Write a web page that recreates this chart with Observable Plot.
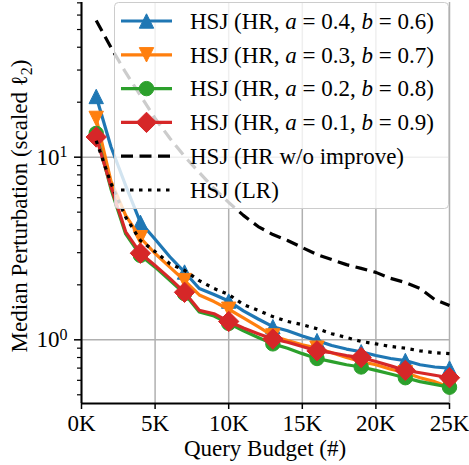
<!DOCTYPE html>
<html><head><meta charset="utf-8">
<script src="https://cdn.jsdelivr.net/npm/d3@7"></script>
<script src="https://cdn.jsdelivr.net/npm/@observablehq/plot@0.6"></script>
<style>body{margin:0;background:#fff;} svg{display:block;}</style>
</head><body><div id="chart"></div>
<script>
// ---- data ----
const queries = [1000,2000,3000,4000,5000,6000,7000,8000,9000,10000,11000,12000,13000,14000,15000,16000,17000,18000,19000,20000,21000,22000,23000,24000,25000];
const hrA04 = [21.5,11.4,7.0,4.4,3.55,2.85,2.35,1.91,1.77,1.63,1.44,1.30,1.18,1.12,1.05,0.99,0.93,0.89,0.86,0.82,0.79,0.77,0.73,0.71,0.70];
const hrA03 = [16.3,7.4,4.8,3.62,2.97,2.5,2.11,1.76,1.62,1.47,1.32,1.18,1.05,0.99,0.94,0.90,0.85,0.80,0.76,0.73,0.69,0.66,0.62,0.59,0.55];
const hrA02 = [13.5,6.7,3.8,2.9,2.5,2.12,1.79,1.42,1.35,1.23,1.12,1.03,0.95,0.90,0.84,0.79,0.76,0.73,0.71,0.68,0.65,0.62,0.59,0.57,0.55];
const hrA01 = [12.9,6.9,3.9,2.98,2.55,2.17,1.82,1.45,1.39,1.26,1.16,1.08,1.01,0.97,0.92,0.87,0.85,0.82,0.80,0.76,0.72,0.68,0.66,0.64,0.62];
const hrNoImprove = [56,39.9,29.1,21.8,16.3,12.7,10.1,8.25,6.74,5.65,4.8,4.17,3.77,3.5,3.2,2.93,2.75,2.58,2.46,2.34,2.17,2.06,1.91,1.66,1.54];
const lr = [12.3,7.2,4.7,3.5,3.04,2.61,2.4,2.11,1.91,1.77,1.56,1.45,1.34,1.26,1.21,1.15,1.08,1.03,0.98,0.95,0.92,0.90,0.87,0.85,0.84];
const xTicks = [0,5000,10000,15000,20000,25000];
const yMajor = [1,10];
const yMinor = [0.5,0.6,0.7,0.8,0.9,2,3,4,5,6,7,8,9,20,30,40,50,60,70];
const labels = [
  ["HSJ (HR, ", "a", " = 0.4, ", "b", " = 0.6)"],
  ["HSJ (HR, ", "a", " = 0.3, ", "b", " = 0.7)"],
  ["HSJ (HR, ", "a", " = 0.2, ", "b", " = 0.8)"],
  ["HSJ (HR, ", "a", " = 0.1, ", "b", " = 0.9)"],
  ["HSJ (HR w/o improve)"],
  ["HSJ (LR)"]
];

// ---- symbols (matplotlib-like) ----
const triUp = {draw(c,s){const r=Math.sqrt(s/Math.PI);c.moveTo(0,-r);c.lineTo(r,r);c.lineTo(-r,r);c.closePath();}};
const triDown = {draw(c,s){const r=Math.sqrt(s/Math.PI);c.moveTo(0,r);c.lineTo(r,-r);c.lineTo(-r,-r);c.closePath();}};
const diamond = {draw(c,s){const r=Math.sqrt(s/Math.PI)*Math.SQRT2;c.moveTo(0,-r);c.lineTo(r,0);c.lineTo(0,r);c.lineTo(-r,0);c.closePath();}};

const series = [
  {vals: hrA04, color:"#1f77b4", sym: triUp, dash:null},
  {vals: hrA03, color:"#ff7f0e", sym: triDown, dash:null},
  {vals: hrA02, color:"#2ca02c", sym: "circle", dash:null},
  {vals: hrA01, color:"#d62728", sym: diamond, dash:null},
  {vals: hrNoImprove, color:"black", sym:null, dash:"12,6.5"},
  {vals: lr, color:"black", sym:null, dash:"3.5,5.5"}
];
const FONT = "'Liberation Serif','Times New Roman',Times,serif";
const MR = 7.2;
const yDomain = [0.448, 70.3];

const marks = [
  Plot.gridX(xTicks, {stroke:"#b0b0b0", strokeOpacity:1, strokeWidth:1.5}),
  Plot.gridY(yMajor, {stroke:"#b0b0b0", strokeOpacity:1, strokeWidth:1.5}),
];
series.forEach(s => {
  const data = queries.map((q,i) => ({q, v: s.vals[i], i}));
  marks.push(Plot.line(data, {x:"q", y:"v", stroke:s.color, strokeWidth:3.2, strokeDasharray: s.dash ?? undefined, strokeLinecap:"butt", strokeLinejoin:"round"}));
  if (s.sym) marks.push(Plot.dot(data.filter(d => d.i % 3 === 0), {x:"q", y:"v", symbol:s.sym, r:MR, fill:s.color, stroke:s.color, strokeWidth:1}));
});
marks.push(
  Plot.ruleX([0], {stroke:"black", strokeWidth:2}),
  Plot.ruleY([yDomain[0]], {stroke:"black", strokeWidth:2}),
  Plot.axisX(xTicks, {tickFormat: d => (d/1000) + "K", tickSize:6, tickPadding:5, strokeWidth:1.5, fontSize:23, label:null}),
  Plot.axisY(yMajor, {tickFormat: d => "10^" + Math.round(Math.log10(d)), tickSize:7, tickPadding:7, strokeWidth:1.5, fontSize:23, label:null}),
  Plot.axisY(yMinor, {tickFormat: () => "", tickSize:4, strokeWidth:1.2, label:null})
);

const chart = Plot.plot({
  width:469, height:465,
  marginLeft:81, marginRight:20, marginTop:2, marginBottom:62,
  style:{fontFamily:FONT, fontSize:"23px", background:"white", color:"black", overflow:"visible"},
  x:{domain:[0,25000], label:null},
  y:{type:"log", domain:yDomain, label:null},
  marks
});
document.getElementById("chart").appendChild(chart);

const svg = d3.select(chart);
// superscript y tick labels
svg.selectAll("text").each(function(){
  const t = d3.select(this);
  const s = t.text();
  if (/^10\^/.test(s)) {
    const e = s.split("^")[1];
    t.text(null);
    t.append("tspan").text("10");
    t.append("tspan").attr("font-size", 16).attr("dy", "-0.45em").text(e);
  }
});
// axis labels
svg.append("text").attr("x", 265).attr("y", 456).attr("text-anchor","middle")
  .attr("font-family", FONT).attr("font-size", 23).attr("fill","black").text("Query Budget (#)");
const yl = svg.append("text").attr("transform","translate(27,206) rotate(-90)").attr("text-anchor","middle")
  .attr("font-family", FONT).attr("font-size", 23).attr("fill","black");
yl.append("tspan").text("Median Perturbation (scaled ");
yl.append("tspan").text("ℓ");
yl.append("tspan").attr("font-size",16).attr("dy",5).text("2");
yl.append("tspan").attr("dy",-5).text(")");

// legend
const lg = svg.append("g").attr("text-anchor","start");
lg.append("rect").attr("x",114.5).attr("y",2.5).attr("width",334).attr("height",206).attr("rx",4).attr("ry",4)
  .style("fill","#ffffff").style("fill-opacity",0.8).style("stroke","#cccccc").style("stroke-width",1);
series.forEach((s, i) => {
  const cy = 21 + 33.8 * i;
  lg.append("line").attr("x1",121).attr("x2",172).attr("y1",cy).attr("y2",cy)
    .attr("stroke", s.color).attr("stroke-width",3.2).attr("stroke-dasharray", s.dash)
    .attr("stroke-linecap","butt");
  if (s.sym) {
    const symType = s.sym === "circle" ? d3.symbolCircle : s.sym;
    lg.append("path").attr("transform",`translate(146.5,${cy})`)
      .attr("d", d3.symbol(symType, Math.PI*MR*MR)()).attr("fill", s.color).attr("stroke", s.color).attr("stroke-width",1);
  }
  const t = lg.append("text").attr("x",190).attr("y",cy).attr("dy","0.34em").attr("text-anchor","start")
    .attr("font-family",FONT).attr("font-size",23).attr("fill","black");
  labels[i].forEach((p, j) => {
    const ts = t.append("tspan").text(p);
    if (j === 1 || j === 3) ts.attr("font-style","italic");
  });
});
</script>
</body></html>
